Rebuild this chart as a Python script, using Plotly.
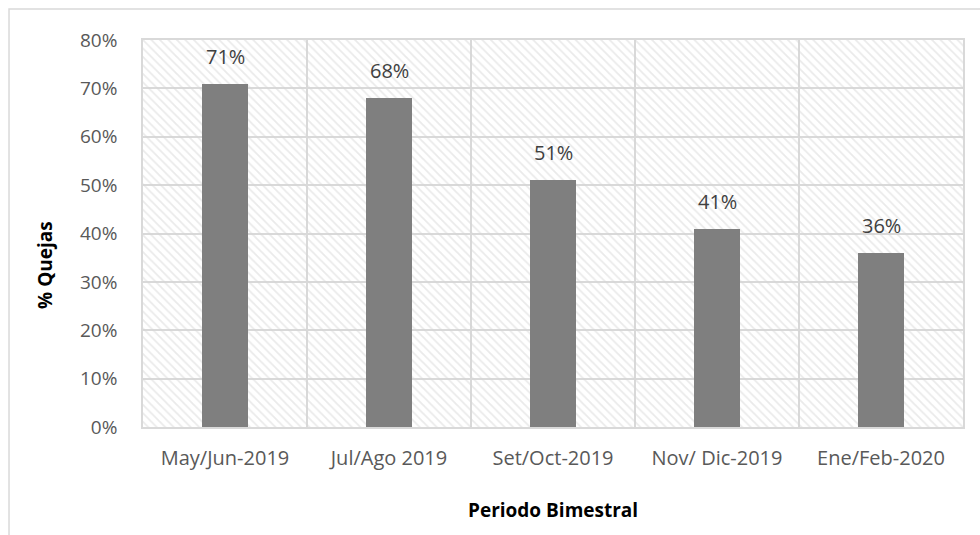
import plotly.graph_objects as go

categories = ["May/Jun-2019", "Jul/Ago 2019", "Set/Oct-2019", "Nov/ Dic-2019", "Ene/Feb-2020"]
values = [0.71, 0.68, 0.51, 0.41, 0.36]
y_ticks = [0, 0.1, 0.2, 0.3, 0.4, 0.5, 0.6, 0.7, 0.8]
y_tick_labels = ["0%", "10%", "20%", "30%", "40%", "50%", "60%", "70%", "80%"]

FONT = "Open Sans"
GRID = "#d9d9d9"

fig = go.Figure()

# hatched plot-area background, one wide bar spanning all categories
fig.add_trace(go.Bar(
    x=[categories[len(categories) // 2]], y=[y_ticks[-1]], width=[len(categories)],
    marker=dict(color="rgba(0,0,0,0)", line=dict(width=0),
                pattern=dict(shape="\\", fgcolor="#d6d6d6", bgcolor="rgba(0,0,0,0)",
                             size=6, solidity=0.3, fillmode="overlay")),
    hoverinfo="skip", showlegend=False,
))

fig.add_trace(go.Bar(
    x=categories, y=values, width=0.277,
    marker=dict(color="#7f7f7f", line=dict(width=0)),
    hoverinfo="skip", showlegend=False,
))

for c, v in zip(categories, values):
    fig.add_annotation(x=c, y=v, text=f"{round(v*100)}%", showarrow=False,
                       yanchor="bottom", yshift=12,
                       font=dict(family=FONT, size=20, color="#404040"))

fig.add_annotation(xref="paper", yref="paper", x=-0.119, y=0.42, text="<b>% Quejas</b>",
                   textangle=-90, showarrow=False, xanchor="center", yanchor="middle",
                   font=dict(family=FONT, size=19, color="#000000"))
fig.add_annotation(xref="paper", yref="paper", x=0.5, y=-0.215, text="<b>Periodo Bimestral</b>",
                   showarrow=False, xanchor="center", yanchor="middle",
                   font=dict(family=FONT, size=19, color="#000000"))

# outer chart border
fig.add_shape(type="rect", xref="paper", yref="paper", x0=-0.1634, x1=1.05, y0=-0.5, y1=1.08,
              line=dict(color=GRID, width=1.5), fillcolor="rgba(0,0,0,0)", layer="below")

fig.update_layout(
    width=980, height=535,
    margin=dict(l=143, r=17, t=40, b=108),
    paper_bgcolor="white", plot_bgcolor="white",
    barmode="overlay", bargap=0,
    font=dict(family=FONT, color="#595959"),
    xaxis=dict(type="category", categoryorder="array", categoryarray=categories,
               tickson="boundaries", showgrid=True, gridcolor=GRID, gridwidth=1.5,
               showline=True, linecolor=GRID, linewidth=1.5, mirror=True,
               ticks="", tickfont=dict(family=FONT, size=20, color="#595959"),
               ticklabelstandoff=12, range=[-0.5, len(categories) - 0.5], fixedrange=True),
    yaxis=dict(range=[0, 0.8], tickvals=y_ticks, ticktext=y_tick_labels, showgrid=True,
               gridcolor=GRID, gridwidth=1.5, showline=True, linecolor=GRID, linewidth=1.5,
               mirror=True, ticks="", zeroline=False,
               tickfont=dict(family=FONT, size=19, color="#595959"),
               ticklabelstandoff=20, fixedrange=True),
)

fig.write_html("out.html", config={"displayModeBar": False},
               post_script="document.body.style.margin='0';document.body.style.padding='0';")
